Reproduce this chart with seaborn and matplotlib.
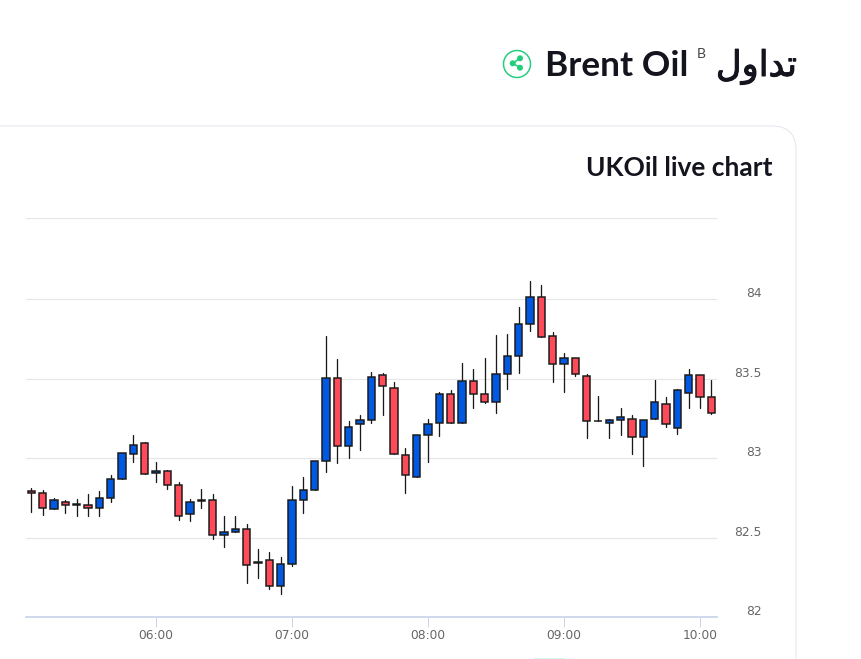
import numpy as np
import pandas as pd
import matplotlib
matplotlib.use("Agg")
import matplotlib.pyplot as plt
import matplotlib.patheffects as pe
from matplotlib.patches import FancyBboxPatch, Circle
from matplotlib.transforms import ScaledTranslation
import seaborn as sns

# ---- data ----
minutes = [305 + 5 * i for i in range(61)]
highs = [82.81,82.80,82.75,82.735,82.74,82.773,82.794,82.894,83.03,83.146,83.102,82.975,82.924,82.847,82.74,82.803,82.773,82.638,82.638,82.587,82.43,82.409,82.379,82.824,82.879,
         82.98,83.769,83.627,83.237,83.273,83.541,83.535,83.482,83.067,83.143,83.245,83.415,83.426,83.60,83.56,83.631,83.774,83.78,83.95,
         84.113,84.092,83.795,83.66,83.629,83.528,83.392,83.247,83.314,83.27,83.241,83.493,83.386,83.434,83.562,83.522,83.493]
lows = [82.66,82.64,82.68,82.655,82.633,82.633,82.633,82.725,82.871,82.977,82.898,82.847,82.805,82.612,82.604,82.689,82.489,82.439,82.536,82.216,82.248,82.174,82.142,82.318,82.655,
        82.80,82.91,82.969,83.004,83.052,83.22,83.273,83.027,82.78,82.881,82.977,83.14,83.22,83.22,83.317,83.346,83.287,83.436,83.535,
        83.803,83.765,83.478,83.415,83.518,83.126,83.232,83.126,83.147,83.027,82.948,83.247,83.195,83.153,83.317,83.317,83.277]
opens = [82.795,82.78,82.68,82.727,82.71,82.708,82.684,82.75,82.871,83.028,83.093,82.907,82.922,82.828,82.65,82.73,82.735,82.515,82.536,82.555,82.344,82.356,82.193,82.333,82.735,
         82.80,82.979,83.503,83.078,83.212,83.241,83.524,83.44,83.021,82.881,83.143,83.22,83.403,83.22,83.488,83.403,83.352,83.53,83.644,
         83.843,84.013,83.771,83.593,83.629,83.516,83.235,83.22,83.239,83.247,83.136,83.247,83.34,83.193,83.409,83.522,83.384]
closes = [82.78,82.684,82.735,82.708,82.706,82.684,82.752,82.871,83.03,83.08,82.90,82.92,82.828,82.636,82.727,82.736,82.515,82.534,82.557,82.328,82.338,82.193,82.335,82.735,82.80,
          82.979,83.503,83.078,83.199,83.241,83.509,83.453,83.029,82.895,83.143,83.218,83.403,83.22,83.488,83.403,83.352,83.53,83.644,83.843,
          84.013,83.765,83.593,83.629,83.53,83.233,83.232,83.239,83.262,83.136,83.241,83.354,83.214,83.426,83.522,83.384,83.283]
y_max = 84.512
y_ticks = [82, 82.5, 83, 83.5, 84, y_max]
y_labels = ["82", "82.5", "83", "83.5", "84", ""]
x_ticks = [360, 420, 480, 540, 600]
x_labels = ["06:00", "07:00", "08:00", "09:00", "10:00"]

W, H = 861, 659
BLUE, RED = "#0059E3", "#FF4A5A"
GREY = "#666666"
px = 0.72

sns.set_theme(style="white")
plt.rcParams["font.family"] = ["DejaVu Sans"]

df = pd.DataFrame({"t": minutes, "high": highs, "low": lows, "open": opens, "close": closes})
df["n"] = range(len(df))
df["base"] = df[["open", "close"]].min(axis=1)
df["height"] = (df["open"] - df["close"]).abs().clip(lower=0.004)
df["up"] = df["close"] >= df["open"]

fig = plt.figure(figsize=(W / 100, H / 100), dpi=100, facecolor="white")

# page furniture in pixel coordinates
bg = fig.add_axes([0, 0, 1, 1], zorder=0)
bg.set_xlim(0, W); bg.set_ylim(H, 0); bg.axis("off")
bg.add_patch(FancyBboxPatch((-26, 126), 822, 700, boxstyle="round,pad=0,rounding_size=24",
                            fc="white", ec="#E4E6EE", lw=1 * px))
bg.plot([534, 564], [658, 658], color="#D5F5F2", lw=1 * px)
green = "#22CE7C"
bg.add_patch(Circle((517, 64), 13.5, fc="none", ec=green, lw=1.5 * px))
for (a, b) in [((520, 58.3), (512.7, 63.3)), ((512.7, 63.3), (520, 67.7))]:
    bg.plot([a[0], b[0]], [a[1], b[1]], color=green, lw=1.6 * px)
for c in [(520, 58.3), (512.7, 63.3), (520, 67.7)]:
    bg.add_patch(Circle(c, 3.0, fc=green, ec="none"))
INK = "#14141E"
bg.text(545, 76, "Brent Oil", fontsize=35.3 * px, family="Lato", weight="bold", color=INK, va="baseline")
bg.text(701.5, 54.5, "B", fontsize=14 * px, family="Lato", color="#444444", ha="center", va="center")
# Arabic "تداول": matplotlib does not shape, so contextual forms in visual order
ar = bg.text(797, 76, "\uFEDD\uFEED\uFE8D\uFEAA\uFE97", fontsize=35.4 * px, family="DejaVu Sans",
             color=INK, ha="right", va="baseline")
ar.set_path_effects([pe.withStroke(linewidth=1.0 * px, foreground=INK)])
bg.text(773, 176, "UKOil live chart", fontsize=26.4 * px, family="Lato", weight="bold", color=INK,
        ha="right", va="baseline")

# chart axes
L, R, T, B = 26, 717, 218, 617
ax = fig.add_axes([L / W, 1 - B / H, (R - L) / W, (B - T) / H], zorder=1)
ax.patch.set_alpha(0)

wicks = df.melt(id_vars=["n", "t"], value_vars=["high", "low"], value_name="price")
sns.lineplot(data=wicks, x="t", y="price", units="n", estimator=None, sort=False,
             color="#1A1A1A", lw=1.3 * px, ax=ax, legend=False, zorder=3)

for is_up, colour in [(True, BLUE), (False, RED)]:
    sub = df[df["up"] == is_up]
    sns.barplot(data=sub, x="t", y="height", bottom=sub["base"].to_numpy(), native_scale=True,
                color=colour, saturation=1, width=0.62, edgecolor="#1A1A1A", linewidth=1.5 * px,
                errorbar=None, ax=ax, zorder=4)

x0 = 360 - (156 - L) / 2.2667
x1 = 360 + (R - 156) / 2.2667
ax.set_xlim(x0, x1)
ax.set_ylim(82, y_max)
ax.set_xlabel(""); ax.set_ylabel("")
for s in ["top", "left", "right"]:
    ax.spines[s].set_visible(False)
ax.spines["bottom"].set_color("#CCD6EB")
ax.spines["bottom"].set_linewidth(1.8 * px)
ax.set_axisbelow(True)
ax.grid(axis="y", color="#E6E6E6", lw=1.2 * px)
ax.grid(axis="x", visible=False)

ax.set_xticks(x_ticks, x_labels)
ax.tick_params(axis="x", length=10 * px, width=1 * px, color="#CCD6EB", pad=2 * px,
               labelsize=12.3 * px, labelcolor=GREY, bottom=True)
ax.yaxis.tick_right()
ax.set_yticks(y_ticks, y_labels)
ax.tick_params(axis="y", length=0, pad=45 * px, labelsize=12.3 * px, labelcolor=GREY)
shift = ScaledTranslation(0, 2 * px / 72, fig.dpi_scale_trans)
for tick in ax.yaxis.get_major_ticks():
    tick.label2.set_ha("right")
    tick.label2.set_va("baseline")
    tick.label2.set_transform(tick.label2.get_transform() + shift)

fig.savefig("out.png", dpi=100, facecolor="white")
